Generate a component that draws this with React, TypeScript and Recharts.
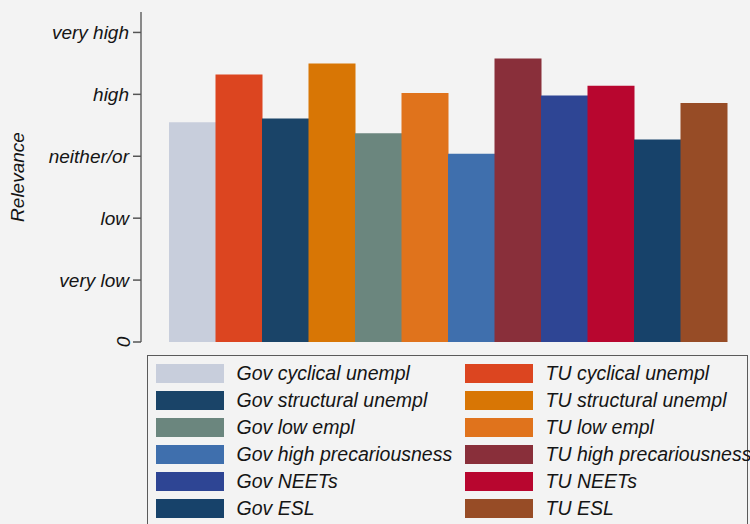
import React from "react";
import { Bar, BarChart, Cell, Legend, XAxis, YAxis } from "recharts";

const categories = [
  "Gov cyclical unempl",
  "TU cyclical unempl",
  "Gov structural unempl",
  "TU structural unempl",
  "Gov low empl",
  "TU low empl",
  "Gov high precariousness",
  "TU high precariousness",
  "Gov NEETs",
  "TU NEETs",
  "Gov ESL",
  "TU ESL",
];
const relevance = [3.55, 4.32, 3.61, 4.5, 3.37, 4.02, 3.04, 4.58, 3.98, 4.14, 3.27, 3.86];
const colors = [
  "#c8cedc",
  "#dc4520",
  "#1a4468",
  "#d87605",
  "#6b867e",
  "#e0731c",
  "#3f6fad",
  "#892f3a",
  "#2e4594",
  "#b8062f",
  "#17426a",
  "#974c26",
];
const tickValues = [0, 1, 2, 3, 4, 5];
const tickLabels = ["0", "very low", "low", "neither/or", "high", "very high"];

const data = categories.map((name, i) => ({ name, value: relevance[i], color: colors[i] }));

const FONT = "'Liberation Sans', Arial, Helvetica, sans-serif";
const INK = "#151515";

function RelevanceTick(props: any) {
  const { x, y, payload } = props;
  const i = tickValues.indexOf(payload.value);
  const label = tickLabels[i] ?? String(payload.value);
  if (payload.value === 0) {
    // stata draws the zero turned on its side
    return (
      <text
        x={x - 6}
        y={y}
        transform={`rotate(-90 ${x - 6} ${y})`}
        textAnchor="middle"
        dominantBaseline="central"
        fontFamily={FONT}
        fontStyle="italic"
        fontSize={19}
        fill={INK}
      >
        {label}
      </text>
    );
  }
  return (
    <text
      x={x}
      y={y}
      textAnchor="end"
      dominantBaseline="central"
      fontFamily={FONT}
      fontStyle="italic"
      fontSize={19}
      fill={INK}
    >
      {label}
    </text>
  );
}

function LegendBox() {
  return (
    <div
      style={{
        boxSizing: "border-box",
        width: 601,
        height: 190,
        border: "1.5px solid #5a5a5a",
        padding: "7.5px 0 0 7.5px",
        display: "grid",
        gridTemplateColumns: "309px 309px",
        gridAutoRows: "27.2px",
        fontFamily: FONT,
        fontStyle: "italic",
        fontSize: 19.5,
        color: INK,
        whiteSpace: "nowrap",
      }}
    >
      {data.map((d) => (
        <div key={d.name} style={{ display: "flex", alignItems: "center", height: 19 }}>
          <span style={{ width: 68, height: 19, background: d.color, flexShrink: 0 }} />
          <span style={{ marginLeft: 13 }}>{d.name}</span>
        </div>
      ))}
    </div>
  );
}

export default function App() {
  return (
    <div style={{ position: "absolute", left: 0, top: 0, width: 750, height: 524, background: "#f3f3f3", overflow: "hidden" }}>
      <BarChart
        width={750}
        height={524}
        data={data}
        barCategoryGap={0}
        margin={{ top: 12, right: 0, bottom: 182, left: 0 }}
      >
        <XAxis
          dataKey="name"
          height={0}
          tick={false}
          tickLine={false}
          padding={{ left: 28, right: 23 }}
          axisLine={{ stroke: "#666", strokeWidth: 1.5 }}
        />
        <YAxis
          width={141}
          domain={[0, 5.33]}
          ticks={tickValues}
          interval={0}
          tickSize={8}
          tickMargin={4}
          tick={<RelevanceTick />}
          tickLine={{ stroke: "#555", strokeWidth: 1.5 }}
          axisLine={{ stroke: "#666", strokeWidth: 1.5 }}
          label={{
            value: "Relevance",
            angle: -90,
            position: "insideLeft",
            offset: 17,
            style: { fontFamily: FONT, fontStyle: "italic", fontSize: 19, fill: INK, textAnchor: "middle" },
          }}
        />
        <Legend
          verticalAlign="middle"
          layout="horizontal"
          wrapperStyle={{ left: 147, top: 355, width: 601, height: 190 }}
          content={() => <LegendBox />}
        />
        <Bar dataKey="value" isAnimationActive={false}>
          {data.map((d) => (
            <Cell key={d.name} fill={d.color} />
          ))}
        </Bar>
      </BarChart>
    </div>
  );
}
